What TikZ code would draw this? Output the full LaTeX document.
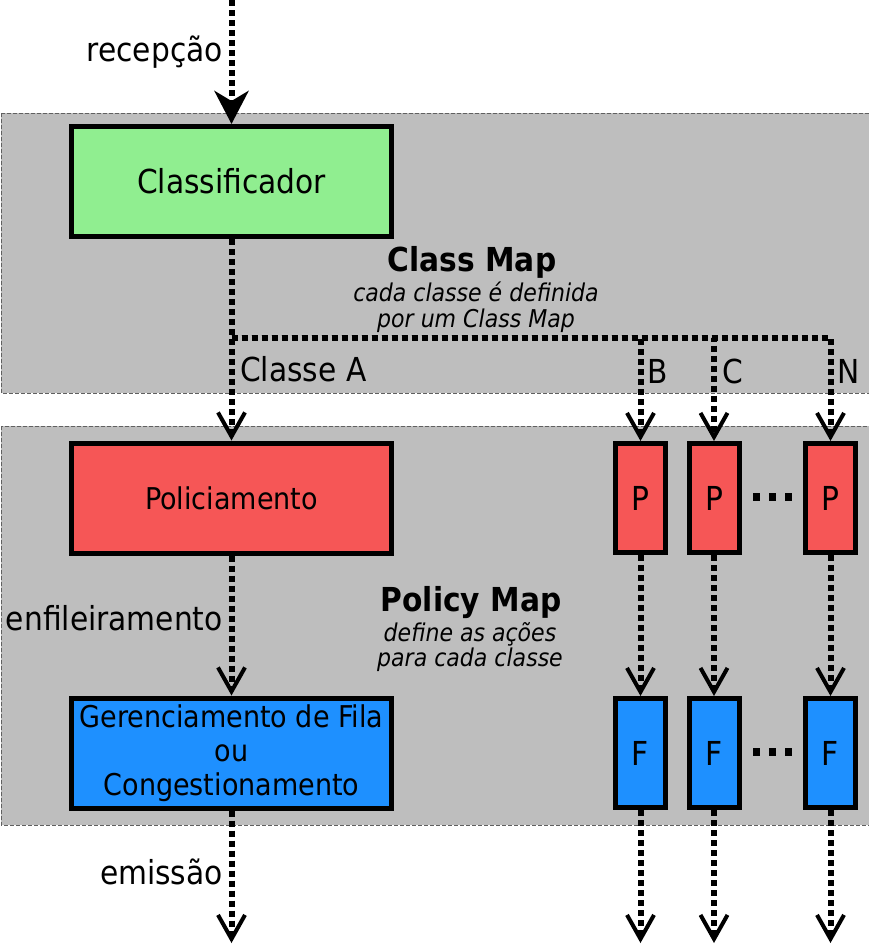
\documentclass[tikz,border=0pt]{standalone}
\usepackage{fontspec}
\setmainfont{DejaVu Sans}[FakeStretch=0.9]
\usetikzlibrary{arrows.meta, positioning}

\definecolor{fundo}{HTML}{BEBEBE}
\definecolor{borda}{HTML}{606060}
\definecolor{verde}{HTML}{90EE90}
\definecolor{vermelho}{HTML}{F65656}
\definecolor{azul}{HTML}{1E90FF}

\tikzset{
	faixa/.style={fill=fundo, draw=borda, line width=1pt, dash pattern=on 4pt off 2pt},
	caixa/.style={draw, line width=5pt, minimum width=320pt, minimum height=110pt, inner sep=0pt, align=center},
	caixinha/.style={draw, line width=5pt, minimum width=50pt, minimum height=109pt, inner sep=0pt},
	rotulo/.style={inner sep=0pt},
	fluxo/.style={line width=6pt, dash pattern=on 6pt off 4pt, -{Straight Barb[length=24pt,width=27pt,line width=4pt]}},
	reticencias/.style={line width=8pt, dash pattern=on 7pt off 9pt},
}

\begin{document}
\begin{tikzpicture}[x=1pt, y=-1pt, font=\fontsize{33}{37}\selectfont]
	\useasboundingbox (0,0) rectangle (869,951);

	% faixas de fundo
	\draw[faixa] (1,113) rectangle (875,393);
	\draw[faixa] (1,426) rectangle (875,825);

	% caixas
	\node[caixa, fill=verde] (classificador) at (231.5,181.5) {Classificador};
	\node[caixa, fill=vermelho, font=\fontsize{30}{35}\selectfont] (policiamento) at (231.5,498) {Policiamento};
	\node[caixa, fill=azul, font=\fontsize{30}{34}\selectfont] (gerenciamento) at (231.5,753) {Gerenciamento de Fila\\ou\\Congestionamento};

	\node[caixinha, fill=vermelho] (pb) at (640.5,498) {P};
	\node[caixinha, fill=vermelho] (pc) at (714,498)   {P};
	\node[caixinha, fill=vermelho] (pn) at (830.5,498) {P};
	\node[caixinha, fill=azul] (fb) at (640.5,753) {F};
	\node[caixinha, fill=azul] (fc) at (714,753)   {F};
	\node[caixinha, fill=azul] (fn) at (830.5,753) {F};

	\coordinate (entrada) at (231.5,0);
	\coordinate (ramo) at (231.5,338);
	\coordinate (saidaA) at (231.5,943);
	\coordinate (saidaB) at (640.5,943);
	\coordinate (saidaC) at (714,943);
	\coordinate (saidaN) at (830.5,943);

	% fluxos
	\draw[fluxo, -{Stealth[length=33pt,width=34pt,inset=10pt]}] (entrada) -- (classificador.north);
	\draw[fluxo] (classificador.south) -- (policiamento.north);
	\draw[fluxo] (ramo) -| (pb.north);
	\draw[fluxo] (ramo) -| (pc.north);
	\draw[fluxo] (ramo) -| (pn.north);
	\draw[fluxo] (policiamento.south) -- (gerenciamento.north);
	\draw[fluxo] (pb.south) -- (fb.north);
	\draw[fluxo] (pc.south) -- (fc.north);
	\draw[fluxo] (pn.south) -- (fn.north);
	\draw[fluxo] (gerenciamento.south) -- (saidaA);
	\draw[fluxo] (fb.south) -- (saidaB);
	\draw[fluxo] (fc.south) -- (saidaC);
	\draw[fluxo] (fn.south) -- (saidaN);

	\draw[reticencias] (753,497) -- (793,497);
	\draw[reticencias] (753,752) -- (793,752);

	% textos
	\node[rotulo, anchor=base east] (recepcao) at (223,61) {recepção};
	\node[rotulo, anchor=base east] (enfileiramento) at (223,630) {enfileiramento};
	\node[rotulo, anchor=base east] (emissao) at (223,884) {emissão};
	\node[rotulo, anchor=base west] (classeA) at (240,381) {Classe A};
	\node[rotulo, anchor=base west] (classeB) at (647,383) {B};
	\node[rotulo, anchor=base west] (classeC) at (722,383) {C};
	\node[rotulo, anchor=base west] (classeN) at (837,383) {N};

	\node[rotulo, anchor=base, font=\fontsize{33}{37}\bfseries] (classmap) at (472,271) {Class Map};
	\node[rotulo, anchor=base, font=\fontsize{24.5}{27}\itshape] at (476,301) {cada classe é definida};
	\node[rotulo, anchor=base, font=\fontsize{24.5}{27}\itshape] at (476,327) {por um Class Map};

	\node[rotulo, anchor=base, font=\fontsize{33}{37}\bfseries] (policymap) at (471,611) {Policy Map};
	\node[rotulo, anchor=base, font=\fontsize{24.5}{27}\itshape] at (470,641) {define as ações};
	\node[rotulo, anchor=base, font=\fontsize{24.5}{27}\itshape] at (470,666) {para cada classe};
\end{tikzpicture}
\end{document}
